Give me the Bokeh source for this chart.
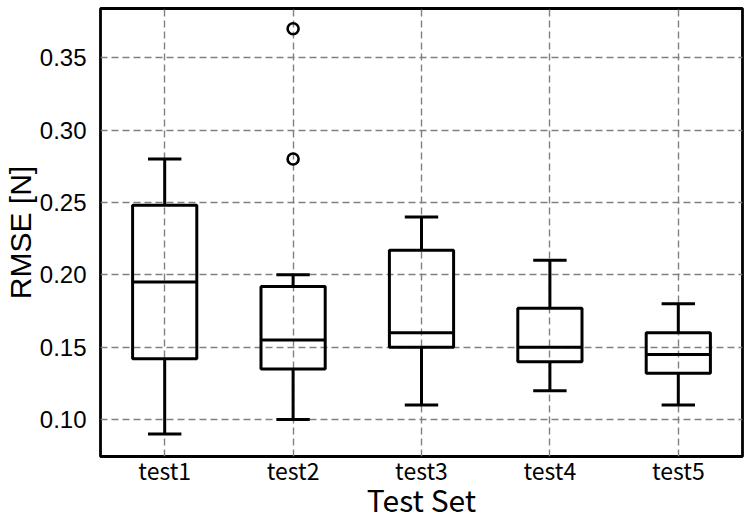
from bokeh.plotting import figure
from bokeh.models import FixedTicker, ColumnDataSource, Range1d
from bokeh.embed import file_html
from bokeh.resources import INLINE

categories = ["test1", "test2", "test3", "test4", "test5"]
whisker_low = [0.09, 0.10, 0.11, 0.12, 0.11]
q1 = [0.142, 0.135, 0.150, 0.140, 0.132]
median = [0.195, 0.155, 0.160, 0.150, 0.145]
q3 = [0.248, 0.192, 0.217, 0.177, 0.160]
whisker_high = [0.28, 0.20, 0.24, 0.21, 0.18]
outlier_cat = ["test2", "test2"]
outlier_val = [0.28, 0.37]
y_ticks = [0.10, 0.15, 0.20, 0.25, 0.30, 0.35]

pos = list(range(1, len(categories) + 1))
box_w = 0.5
cap_w = 0.26

src = ColumnDataSource(dict(
    x=pos,
    left=[p - box_w / 2 for p in pos],
    right=[p + box_w / 2 for p in pos],
    cl=[p - cap_w / 2 for p in pos],
    cr=[p + cap_w / 2 for p in pos],
    lo=whisker_low, q1=q1, med=median, q3=q3, hi=whisker_high,
))
out_src = ColumnDataSource(dict(
    x=[pos[categories.index(c)] for c in outlier_cat], y=outlier_val))

p = figure(width=750, height=524, output_backend="svg", toolbar_location=None,
           x_range=Range1d(0.5, 5.5), y_range=Range1d(0.0745, 0.384),
           min_border_left=100, min_border_right=8, min_border_top=8,
           min_border_bottom=68)

p.xaxis.ticker = FixedTicker(ticks=pos)
p.xaxis.major_label_overrides = {p_: c for p_, c in zip(pos, categories)}
p.yaxis.ticker = FixedTicker(ticks=y_ticks)
p.yaxis.major_label_overrides = {t: f"{t:.2f}" for t in y_ticks}
p.xgrid.ticker = FixedTicker(ticks=pos)
p.ygrid.ticker = FixedTicker(ticks=y_ticks)
for g in (p.xgrid, p.ygrid):
    g.grid_line_color = "#808080"
    g.grid_line_dash = "7 4"
    g.grid_line_width = 1.4

for ax in (p.xaxis, p.yaxis):
    ax.major_label_text_color = "black"
    ax.axis_label_text_font_style = "normal"
    ax.axis_label_text_color = "black"
    ax.axis_line_color = None
    ax.major_tick_line_color = None
    ax.minor_tick_line_color = None

p.xaxis.major_label_text_font = "Noto Sans CJK JP"
p.xaxis.major_label_text_font_size = "23px"
p.xaxis.axis_label_text_font = "Noto Sans CJK JP"
p.xaxis.axis_label_text_font_size = "30px"
p.xaxis.major_label_standoff = -10
p.xaxis.axis_label_standoff = -13

p.yaxis.major_label_text_font = "Liberation Sans"
p.yaxis.major_label_text_font_size = "24px"
p.yaxis.axis_label_text_font = "Liberation Sans"
p.yaxis.axis_label_text_font_size = "30px"
p.yaxis.major_label_standoff = 8
p.yaxis.axis_label_standoff = 0

p.xaxis.axis_label = "Test Set"
p.yaxis.axis_label = "RMSE [N]"

p.outline_line_color = "black"
p.outline_line_width = 2.8
p.outline_line_alpha = 1

lw = 3
p.segment(x0="x", y0="lo", x1="x", y1="q1", source=src, line_color="black", line_width=lw)
p.segment(x0="x", y0="q3", x1="x", y1="hi", source=src, line_color="black", line_width=lw)
p.segment(x0="cl", y0="lo", x1="cr", y1="lo", source=src, line_color="black", line_width=lw)
p.segment(x0="cl", y0="hi", x1="cr", y1="hi", source=src, line_color="black", line_width=lw)
p.quad(left="left", right="right", bottom="q1", top="q3", source=src,
       fill_color=None, line_color="black", line_width=lw)
p.segment(x0="left", y0="med", x1="right", y1="med", source=src, line_color="black", line_width=lw)
p.scatter(x="x", y="y", source=out_src, size=11, marker="circle",
          fill_color=None, line_color="black", line_width=2.6)

open("out.html", "w").write(file_html(p, INLINE))
